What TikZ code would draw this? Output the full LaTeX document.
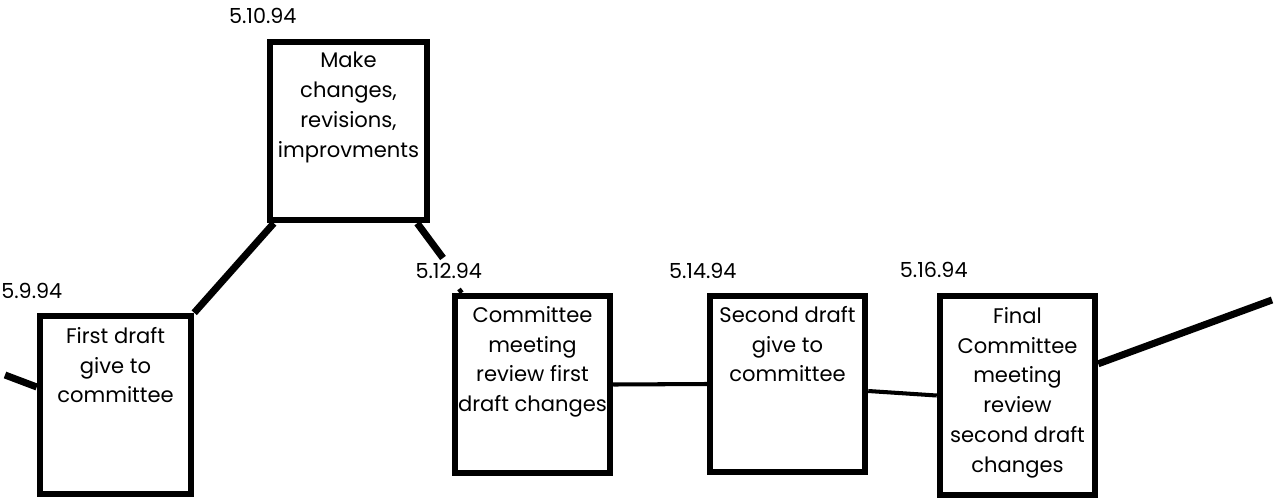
\documentclass[tikz,border=0pt]{standalone}
\usepackage{fontspec}
\setmainfont{Poppins}
\usetikzlibrary{calc}

\tikzset{
  stage/.style={draw, line width=3.7pt, inner sep=0pt, minimum width=3.1cm},
  stagetext/.style={anchor=north, inner sep=0pt, align=center, font=\fontsize{12}{17}\selectfont},
  datelabel/.style={anchor=south, inner sep=0pt, font=\fontsize{11.8}{13}\selectfont\addfontfeatures{Numbers=Monospaced}},
  link/.style={line width=4pt},
  thinlink/.style={line width=2.3pt}
}

\begin{document}
\begin{tikzpicture}[x=0.02cm, y=-0.02cm]
  \useasboundingbox (0,0) rectangle (1275,501);
  % boxes
  \node[stage, minimum width=3.02cm, minimum height=3.56cm] (first) at (115.5,405) {};
  \node[stage, minimum width=3.14cm, minimum height=3.56cm] (make) at (348.5,131) {};
  \node[stage, minimum height=3.54cm] (review) at (532.5,384.5) {};
  \node[stage, minimum height=3.52cm] (second) at (787.5,384) {};
  \node[stage, minimum height=3.98cm] (final) at (1017.5,395.5) {};
  % texts
  \node[stagetext] (firsttext) at ($(first.north)+(0,14)$) {First draft\\give to\\committee};
  \node[stagetext] (maketext) at ($(make.north)+(0,13)$) {Make\\changes,\\revisions,\\improvments};
  \node[stagetext] (reviewtext) at ($(review.north)+(0,13)$) {Committee\\meeting\\review first\\draft changes};
  \node[stagetext] (secondtext) at ($(second.north)+(0,13)$) {Second draft\\give to\\committee};
  \node[stagetext] (finaltext) at ($(final.north)+(0,14)$) {Final\\Committee\\meeting\\review\\second draft\\changes};
  % dates
  \node[datelabel] (d1) at ($(first.north west)+(-5,-14)$) {5.9.94};
  \node[datelabel] (d2) at ($(make.north west)+(-4,-15)$) {5.10.94};
  \node[datelabel] (d3) at ($(review.north west)+(-3,-14)$) {5.12.94};
  \node[datelabel] (d4) at ($(second.north west)+(-4,-14)$) {5.14.94};
  \node[datelabel] (d5) at ($(final.north west)+(-3,-15)$) {5.16.94};
  % links
  \coordinate (start) at (5,375);
  \coordinate (gap) at (443,258);
  \coordinate (nick) at (459,289);
  \coordinate (finish) at (1272,300);
  \draw[link] (start) -- ($(first.west)+(0,-18)$);
  \draw[link] (first.north east) -- ($(make.south west)+(7,0)$);
  \draw[link] ($(make.south east)+(-13,0)$) -- (gap);
  \draw[line width=2.5pt] (nick) -- ($(review.north west)+(10,0)$);
  \draw[thinlink] (review.east) -- (second.west);
  \draw[thinlink] ($(second.east)+(0,7)$) -- (final.west);
  \draw[link] ($(final.north east)+(0,71)$) -- (finish);
\end{tikzpicture}
\end{document}
